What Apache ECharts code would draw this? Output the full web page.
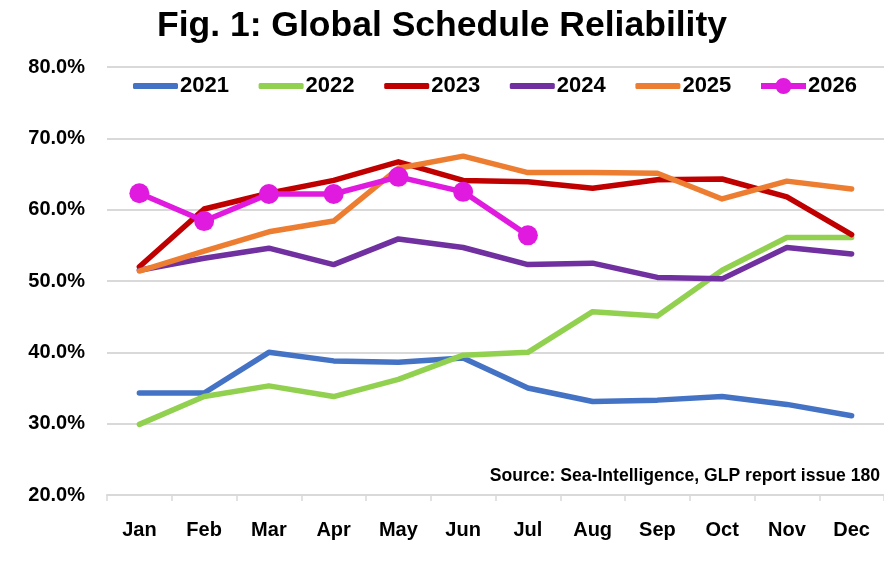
<!DOCTYPE html>
<html>
<head>
<meta charset="utf-8">
<script src="https://cdn.jsdelivr.net/npm/echarts@6/dist/echarts.min.js"></script>
<style>
html,body{margin:0;padding:0;background:#fff;}
#c{width:884px;height:565px;}
</style>
</head>
<body>
<div id="c"></div>
<script>
const months = ['Jan','Feb','Mar','Apr','May','Jun','Jul','Aug','Sep','Oct','Nov','Dec'];
const yTicks = [20, 30, 40, 50, 60, 70, 80];
const s2021 = [34.3, 34.3, 40.0, 38.8, 38.6, 39.2, 35.0, 33.1, 33.3, 33.8, 32.7, 31.1];
const s2022 = [29.9, 33.8, 35.3, 33.8, 36.2, 39.6, 40.0, 45.7, 45.1, 51.5, 56.1, 56.1];
const s2023 = [52.0, 60.1, 62.3, 64.1, 66.7, 64.1, 63.9, 63.0, 64.2, 64.3, 61.8, 56.5];
const s2024 = [51.5, 53.2, 54.6, 52.3, 55.9, 54.7, 52.3, 52.5, 50.5, 50.3, 54.7, 53.8];
const s2025 = [51.4, 54.2, 56.9, 58.4, 65.8, 67.5, 65.2, 65.2, 65.1, 61.5, 64.0, 62.9];
const s2026 = [62.3, 58.4, 62.2, 62.2, 64.6, 62.5, 56.4];
const seriesNames = ['2021','2022','2023','2024','2025','2026'];
const seriesData = [s2021, s2022, s2023, s2024, s2025, s2026];
const colors = ['#4472C4','#92D050','#C00000','#7030A0','#ED7D31','#E01ADF'];

const FONT = '"Liberation Sans", Arial, sans-serif';
const chart = echarts.init(document.getElementById('c'));

const series = seriesNames.map((n, i) => ({
  name: n,
  type: 'line',
  data: seriesData[i],
  symbol: n === '2026' ? 'circle' : 'none',
  symbolSize: 20,
  showSymbol: n === '2026',
  lineStyle: { width: 5.5, color: colors[i], cap: 'round', join: 'round' },
  itemStyle: { color: colors[i] },
  emphasis: { disabled: true },
  animation: false,
  z: 2 + i
}));

const markerIcon = 'path://M0,5 L45,5 L45,11 L0,11 Z M14.5,8 A8,8 0 1,1 30.5,8 A8,8 0 1,1 14.5,8 Z';

const legends = seriesNames.map((n, i) => {
  const marker = n === '2026';
  return {
    data: [{ name: n, icon: marker ? markerIcon : 'roundRect' }],
    left: 133 + i * 125.6,
    top: 75,
    itemWidth: 45,
    itemHeight: marker ? 16 : 6,
    itemGap: 0,
    padding: 0,
    textStyle: { fontFamily: FONT, fontWeight: 'bold', fontSize: 22, color: '#000', padding: [0,0,0,-3] },
    selectedMode: false
  };
});

chart.setOption({
  animation: false,
  color: colors,
  title: {
    text: 'Fig. 1: Global Schedule Reliability',
    left: 'center',
    top: 3,
    textStyle: { fontFamily: FONT, fontWeight: 'bold', fontSize: 35.5, color: '#000' }
  },
  legend: legends,
  grid: { left: 107, right: -3, top: 67, bottom: 70, containLabel: false },
  xAxis: {
    type: 'category',
    data: months,
    boundaryGap: true,
    axisLine: { show: true, lineStyle: { color: '#d9d9d9', width: 2 } },
    axisTick: { show: true, length: 6, lineStyle: { color: '#d9d9d9', width: 1.5 } },
    axisLabel: { fontFamily: FONT, fontWeight: 'bold', fontSize: 20, color: '#000', margin: 25 }
  },
  yAxis: {
    type: 'value',
    min: yTicks[0],
    max: yTicks[yTicks.length - 1],
    interval: 10,
    axisLine: { show: false },
    axisTick: { show: false },
    splitLine: { lineStyle: { color: '#d9d9d9', width: 2 } },
    axisLabel: {
      fontFamily: FONT, fontWeight: 'bold', fontSize: 20, color: '#000', margin: 22,
      formatter: v => v.toFixed(1) + '%'
    }
  },
  graphic: [{
    type: 'text',
    right: 4,
    top: 467,
    style: {
      text: 'Source: Sea-Intelligence, GLP report issue 180',
      font: 'bold 17.6px ' + FONT,
      fill: '#000'
    }
  }],
  series: series
});
</script>
</body>
</html>
